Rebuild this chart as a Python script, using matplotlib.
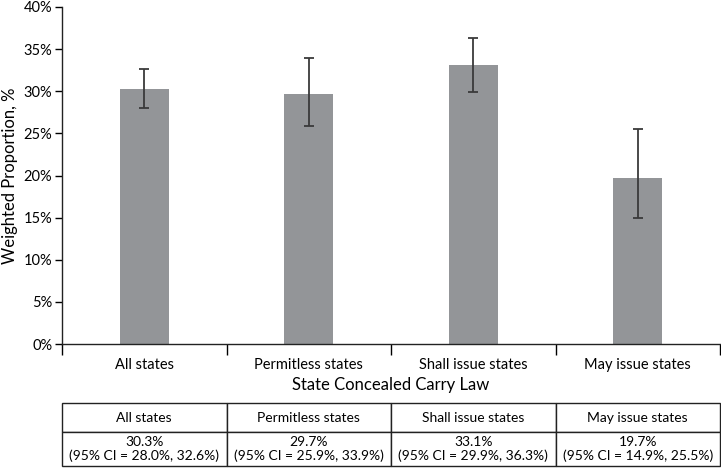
import numpy as np
import matplotlib.pyplot as plt
from matplotlib.ticker import PercentFormatter

plt.rcParams['font.family'] = ['Lato', 'DejaVu Sans']

# data
categories = ['All states', 'Permitless states', 'Shall issue states', 'May issue states']
proportion = [30.3, 29.7, 33.1, 19.7]
ci_low = [28.0, 25.9, 29.9, 14.9]
ci_high = [32.6, 33.9, 36.3, 25.5]

bar_color = '#939598'
err_color = '#3a3a3a'

fig = plt.figure(figsize=(7.21, 4.71), dpi=100)
ax = fig.add_axes([62 / 721, 1 - 344 / 471, 658 / 721, 337 / 471])

x = np.arange(len(categories))
yerr = [np.array(proportion) - np.array(ci_low), np.array(ci_high) - np.array(proportion)]
ax.bar(x, proportion, width=0.3, color=bar_color, zorder=2)
ax.errorbar(x, proportion, yerr=yerr, fmt='none', ecolor=err_color,
            elinewidth=1.3, capsize=3.5, capthick=1.3, zorder=3)

ax.set_xlim(-0.5, len(categories) - 0.5)
ax.set_ylim(0, 40)
ax.set_yticks(np.arange(0, 41, 5))
ax.yaxis.set_major_formatter(PercentFormatter(decimals=0))
ax.tick_params(axis='y', length=5, width=1, labelsize=10.5, pad=2)

# category dividers as x ticks, labels centred under the bars
ax.set_xticks(np.arange(-0.5, len(categories), 1.0))
ax.set_xticklabels([])
ax.set_xticks(x, minor=True)
ax.set_xticklabels(categories, minor=True)
ax.tick_params(axis='x', which='major', length=8, width=1, direction='out')
ax.tick_params(axis='x', which='minor', length=0, labelsize=10.5, pad=10)

for s in ['top', 'right']:
    ax.spines[s].set_visible(False)
for s in ['left', 'bottom']:
    ax.spines[s].set_linewidth(1)
    ax.spines[s].set_color('#222222')

ax.set_ylabel('Weighted Proportion, %', fontsize=12, labelpad=4)
ax.set_xlabel('State Concealed Carry Law', fontsize=12, labelpad=4)

# table below the chart
tax = fig.add_axes([62 / 721, 1 - 466 / 471, 658 / 721, 63 / 471])
tax.axis('off')
cells = [[f'{p:.1f}%\n(95% CI = {lo:.1f}%, {hi:.1f}%)'
          for p, lo, hi in zip(proportion, ci_low, ci_high)]]
tbl = tax.table(cellText=cells, colLabels=categories, cellLoc='center',
                bbox=[0, 0, 1, 1])
tbl.auto_set_font_size(False)
for (r, c), cell in tbl.get_celld().items():
    cell.set_fontsize(10)
    cell.set_linewidth(1)
    cell.set_edgecolor('#222222')
    cell.set_height(29 / 63 if r == 0 else 34 / 63)

fig.savefig('out.png', dpi=100)
